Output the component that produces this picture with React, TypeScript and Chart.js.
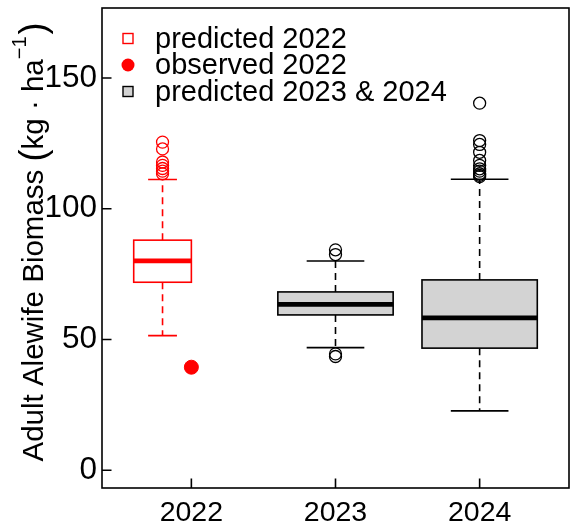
import React, { useEffect, useRef } from "react";
import { Chart, registerables } from "chart.js";

Chart.register(...registerables);

// ---- data ----
const years = ["2022", "2023", "2024"];
const yearPositions = [1, 2, 3];
const boxPositions = [0.8, 2, 3];
const boxWidths = [0.4, 0.8, 0.8];
const lowerWhisker = [51.5, 46.9, 22.7];
const q1 = [71.9, 59.4, 46.7];
const median = [80.1, 63.4, 58.3];
const q3 = [88.0, 68.2, 72.8];
const upperWhisker = [111.2, 80.0, 111.3];
const outliers2022 = [125.5, 122.9, 117.9, 116.6, 115.4, 114.4, 113.4];
const outliers2023 = [84.3, 82.5, 44.5, 43.5];
const outliers2024 = [140.4, 126.1, 124.6, 121.6, 118.5, 116.6, 115.3, 114.4, 113.4, 112.8, 112.3];
const observed2022 = [39.4];
const yTicks = [0, 50, 100, 150];
const legendLabels = ["predicted 2022", "observed 2022", "predicted 2023 & 2024"];

const FONT = '"Liberation Sans", Arial, sans-serif';
const RED = "#FF0000";
const GREY = "#D3D3D3";

const boxPlugin = {
  id: "rBoxes",
  beforeDatasetsDraw(chart: any) {
    const { ctx, scales } = chart;
    const xs = scales.x;
    const ys = scales.y;
    for (let i = 0; i < boxPositions.length; i++) {
      const col = i === 0 ? RED : "#000";
      const fill = i === 0 ? "#FFFFFF" : GREY;
      const cx = xs.getPixelForValue(boxPositions[i]);
      const x0 = xs.getPixelForValue(boxPositions[i] - boxWidths[i] / 2);
      const x1 = xs.getPixelForValue(boxPositions[i] + boxWidths[i] / 2);
      const c0 = xs.getPixelForValue(boxPositions[i] - boxWidths[i] / 4);
      const c1 = xs.getPixelForValue(boxPositions[i] + boxWidths[i] / 4);
      const yLo = ys.getPixelForValue(lowerWhisker[i]);
      const yQ1 = ys.getPixelForValue(q1[i]);
      const yMed = ys.getPixelForValue(median[i]);
      const yQ3 = ys.getPixelForValue(q3[i]);
      const yHi = ys.getPixelForValue(upperWhisker[i]);
      ctx.save();
      ctx.strokeStyle = col;
      ctx.lineWidth = 1.6;
      ctx.lineCap = "butt";
      // whiskers (dashed)
      ctx.setLineDash([7, 5]);
      ctx.beginPath();
      ctx.moveTo(cx, yQ3);
      ctx.lineTo(cx, yHi);
      ctx.moveTo(cx, yQ1);
      ctx.lineTo(cx, yLo);
      ctx.stroke();
      ctx.setLineDash([]);
      // caps
      ctx.beginPath();
      ctx.moveTo(c0, yHi);
      ctx.lineTo(c1, yHi);
      ctx.moveTo(c0, yLo);
      ctx.lineTo(c1, yLo);
      ctx.stroke();
      // box
      ctx.fillStyle = fill;
      ctx.fillRect(x0, yQ3, x1 - x0, yQ1 - yQ3);
      ctx.strokeRect(x0, yQ3, x1 - x0, yQ1 - yQ3);
      // median
      ctx.lineWidth = 4.8;
      ctx.beginPath();
      ctx.moveTo(x0, yMed);
      ctx.lineTo(x1, yMed);
      ctx.stroke();
      ctx.restore();
    }
  },
  afterDraw(chart: any) {
    const { ctx, chartArea, scales } = chart;
    const xs = scales.x;
    const ys = scales.y;
    ctx.save();
    // frame
    ctx.strokeStyle = "#000";
    ctx.lineWidth = 1.6;
    ctx.strokeRect(chartArea.left, chartArea.top, chartArea.right - chartArea.left, chartArea.bottom - chartArea.top);
    // inward ticks
    ctx.beginPath();
    for (const v of yTicks) {
      const py = ys.getPixelForValue(v);
      ctx.moveTo(chartArea.left, py);
      ctx.lineTo(chartArea.left + 9.5, py);
    }
    for (const v of yearPositions) {
      const px = xs.getPixelForValue(v);
      ctx.moveTo(px, chartArea.bottom);
      ctx.lineTo(px, chartArea.bottom - 9.5);
    }
    ctx.stroke();

    // legend
    const lx = 128;
    const rows = [39.5, 66, 92.5];
    const tx = 155;
    ctx.lineWidth = 1.4;
    ctx.strokeStyle = RED;
    ctx.strokeRect(lx - 5, rows[0] - 6, 10, 10);
    ctx.fillStyle = RED;
    ctx.beginPath();
    ctx.arc(lx, rows[1] - 1, 6.5, 0, Math.PI * 2);
    ctx.fill();
    ctx.fillStyle = GREY;
    ctx.strokeStyle = "#000";
    ctx.fillRect(lx - 5, rows[2] - 6, 10, 10);
    ctx.strokeRect(lx - 5, rows[2] - 6, 10, 10);
    ctx.fillStyle = "#000";
    ctx.font = `29px ${FONT}`;
    ctx.textBaseline = "middle";
    ctx.textAlign = "left";
    legendLabels.forEach((t, i) => ctx.fillText(t, tx, rows[i]));

    // y-axis title (rotated)
    const mainFont = `29.5px ${FONT}`;
    const parenFont = `36px ${FONT}`;
    const supFont = `20px ${FONT}`;
    const part1 = "Adult Alewife Biomass ";
    const part2 = "kg \u00B7 ha";
    const sup = "\u22121";
    ctx.font = mainFont;
    const w1 = ctx.measureText(part1).width;
    const w2 = ctx.measureText(part2).width;
    ctx.font = parenFont;
    const wp = ctx.measureText("(").width;
    ctx.font = supFont;
    const ws = ctx.measureText(sup).width;
    const total = w1 + wp + w2 + ws + wp + 2;
    const cy = 242;
    ctx.translate(43, cy);
    ctx.rotate(-Math.PI / 2);
    ctx.textBaseline = "alphabetic";
    let px = -total / 2;
    ctx.font = mainFont;
    ctx.fillText(part1, px, 0);
    px += w1;
    ctx.font = parenFont;
    ctx.fillText("(", px, 2);
    px += wp;
    ctx.font = mainFont;
    ctx.fillText(part2, px, 0);
    px += w2;
    ctx.font = supFont;
    ctx.fillText(sup, px, -17);
    px += ws + 2;
    ctx.font = parenFont;
    ctx.fillText(")", px, 2);
    ctx.restore();
  },
};

export default function App() {
  const ref = useRef<HTMLCanvasElement>(null);
  useEffect(() => {
    if (!ref.current) return;
    const chart = new Chart(ref.current, {
      type: "scatter",
      data: {
        datasets: [
          {
            label: "predicted 2022 outliers",
            data: outliers2022.map((v) => ({ x: boxPositions[0], y: v })),
            pointRadius: 6,
            pointBorderWidth: 1.3,
            pointBorderColor: RED,
            pointBackgroundColor: "rgba(0,0,0,0)",
          },
          {
            label: "predicted 2023 outliers",
            data: outliers2023.map((v) => ({ x: boxPositions[1], y: v })),
            pointRadius: 6,
            pointBorderWidth: 1.3,
            pointBorderColor: "#000",
            pointBackgroundColor: "rgba(0,0,0,0)",
          },
          {
            label: "predicted 2024 outliers",
            data: outliers2024.map((v) => ({ x: boxPositions[2], y: v })),
            pointRadius: 6,
            pointBorderWidth: 1.3,
            pointBorderColor: "#000",
            pointBackgroundColor: "rgba(0,0,0,0)",
          },
          {
            label: "observed 2022",
            data: observed2022.map((v) => ({ x: yearPositions[0], y: v })),
            pointRadius: 7,
            pointBorderWidth: 1,
            pointBorderColor: RED,
            pointBackgroundColor: RED,
          },
        ],
      },
      options: {
        animation: false,
        responsive: false,
        events: [],
        layout: { padding: { top: 7, right: 7, left: 0, bottom: 0 } },
        plugins: { legend: { display: false }, tooltip: { enabled: false } },
        scales: {
          x: {
            type: "linear",
            min: 0.38,
            max: 3.62,
            grid: { display: false, drawTicks: false },
            border: { display: false },
            afterBuildTicks: (s: any) => {
              s.ticks = yearPositions.map((v) => ({ value: v }));
            },
            afterFit: (s: any) => {
              s.height = 39;
              s.paddingLeft = 0;
              s.paddingRight = 0;
            },
            ticks: {
              color: "#000",
              font: { family: FONT, size: 28.5 },
              padding: 8,
              maxRotation: 0,
              autoSkip: false,
              callback: (v: any) => years[yearPositions.indexOf(Number(v))] ?? "",
            },
          },
          y: {
            type: "linear",
            min: -6.8,
            max: 176.8,
            grid: { display: false, drawTicks: false },
            border: { display: false },
            afterBuildTicks: (s: any) => {
              s.ticks = yTicks.map((v) => ({ value: v }));
            },
            afterFit: (s: any) => {
              s.width = 102;
              s.paddingTop = 0;
              s.paddingBottom = 0;
            },
            ticks: {
              color: "#000",
              font: { family: FONT, size: 31.5 },
              padding: 5,
              autoSkip: false,
            },
          },
        },
      },
      plugins: [boxPlugin],
    } as any);
    return () => chart.destroy();
  }, []);
  return (
    <div style={{ position: "fixed", left: 0, top: 0, width: 577, height: 527, background: "#fff" }}>
      <canvas ref={ref} width={577} height={527} style={{ display: "block", width: 577, height: 527 }} />
    </div>
  );
}
